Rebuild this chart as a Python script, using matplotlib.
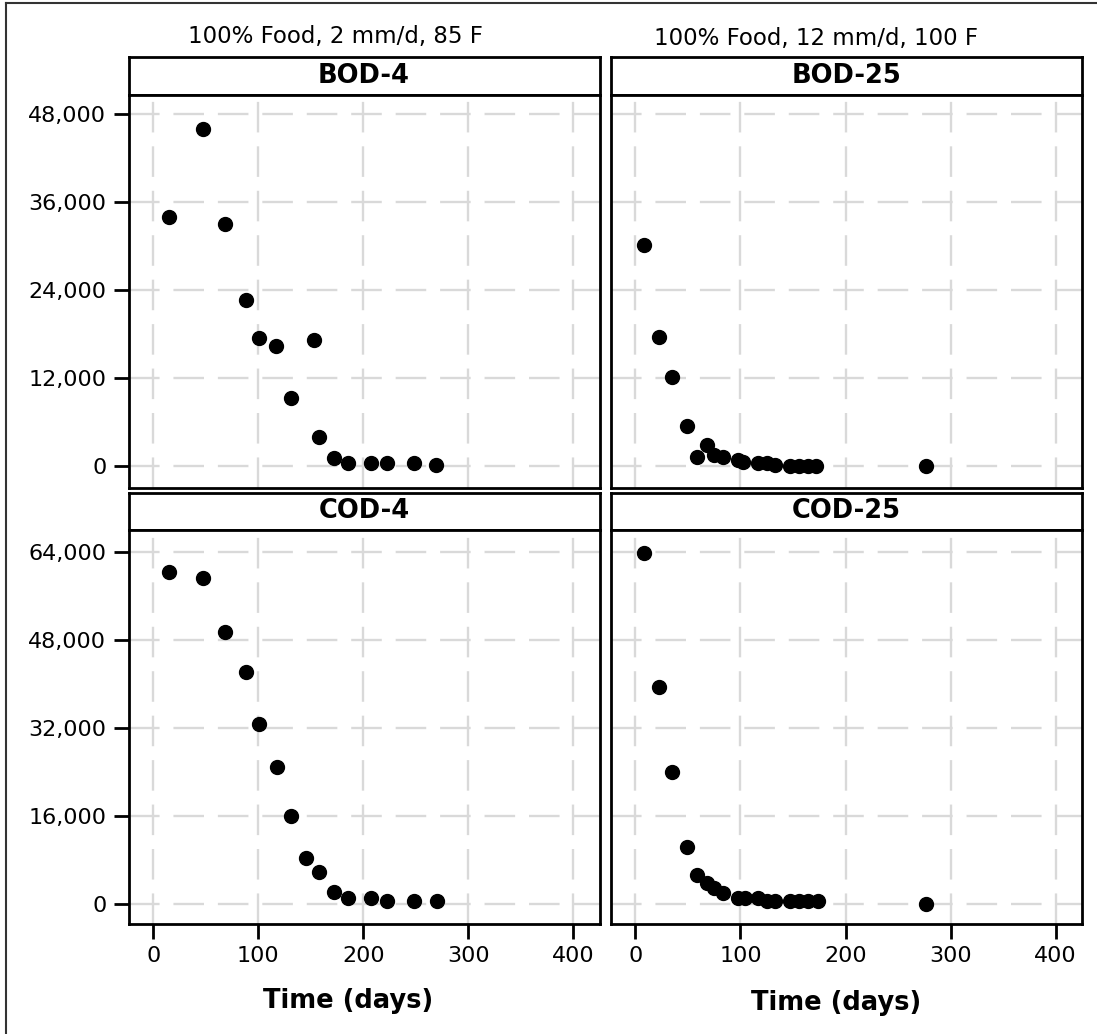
import matplotlib
matplotlib.use("Agg")
import matplotlib.pyplot as plt
from matplotlib.lines import Line2D
from matplotlib.ticker import StrMethodFormatter

# data (days, mg/L)
days_bod4 = [15, 47, 68, 88, 101, 117, 131, 153, 158, 172, 185, 207, 223, 248, 269]
bod4 = [33900, 46000, 33000, 22700, 17500, 16400, 9300, 17200, 3900, 1150, 400, 400, 400, 400, 150]

days_bod25 = [8, 22, 35, 49, 59, 68, 75, 83, 98, 102, 117, 125, 133, 147, 156, 164, 172, 277]
bod25 = [30100, 17600, 12100, 5500, 1200, 2800, 1500, 1200, 800, 500, 370, 370, 100, 50, 50, 50, 50, 50]

days_cod4 = [15, 47, 68, 88, 101, 118, 131, 145, 158, 172, 185, 207, 223, 248, 270]
cod4 = [60300, 59300, 49400, 42200, 32800, 25000, 16100, 8400, 5800, 2200, 1150, 1150, 550, 550, 550]

days_cod25 = [8, 22, 35, 49, 59, 68, 75, 83, 98, 104, 117, 125, 133, 147, 156, 164, 174, 277]
cod25 = [63800, 39400, 24000, 10400, 5300, 3800, 2900, 2100, 1100, 1100, 1100, 600, 500, 500, 500, 500, 500, 0]

col_titles = ["100% Food, 2 mm/d, 85 F", "100% Food, 12 mm/d, 100 F"]
x_ticks = [0, 100, 200, 300, 400]
bod_ticks = [0, 12000, 24000, 36000, 48000]
cod_ticks = [0, 16000, 32000, 48000, 64000]

plt.rcParams['font.family'] = ['DejaVu Sans']
plt.rcParams['lines.scale_dashes'] = False

W, H = 1097, 1034
fig = plt.figure(figsize=(W / 100, H / 100), dpi=100)

def box(x0, y0, x1, y1):
    # pixel box (top-left origin) -> figure fraction rect
    return [x0 / W, 1 - y1 / H, (x1 - x0) / W, (y1 - y0) / H]

cols = [(128.5, 599.5), (610.5, 1082)]
rows = [((57, 95), (95, 488)), ((493, 530), (530, 924))]

panels = [
    [("BOD-4", days_bod4, bod4), ("BOD-25", days_bod25, bod25)],
    [("COD-4", days_cod4, cod4), ("COD-25", days_cod25, cod25)],
]
yticks = [bod_ticks, cod_ticks]
ylims = [(-3000, 50600), (-3600, 68000)]

for r, ((s0, s1), (p0, p1)) in enumerate(rows):
    for c, (x0, x1) in enumerate(cols):
        title, xs, ys = panels[r][c]

        # strip header
        sax = fig.add_axes(box(x0, s0, x1, s1))
        sax.set_xticks([])
        sax.set_yticks([])
        for sp in sax.spines.values():
            sp.set_linewidth(2)
        sax.text(0.5, 0.5, title, transform=sax.transAxes, ha='center', va='center',
                 fontsize=18.5, fontweight='bold')

        ax = fig.add_axes(box(x0, p0, x1, p1))
        ax.set_axisbelow(True)
        ax.plot(xs, ys, 'o', color='black', ms=10)
        ax.set_xlim(-23.7, 425)
        ax.set_ylim(*ylims[r])
        ax.set_xticks(x_ticks)
        ax.set_yticks(yticks[r])
        ax.yaxis.set_major_formatter(StrMethodFormatter('{x:,.0f}'))
        ax.grid(True, color='#d9d9d9', lw=1.7, linestyle=(0, (22, 10)))
        for sp in ax.spines.values():
            sp.set_linewidth(2)
        ax.tick_params(length=11, width=2, labelsize=16, pad=5)
        if c == 1:
            ax.tick_params(axis='y', length=0, labelleft=False)
        if r == 0:
            ax.tick_params(axis='x', length=0, labelbottom=False)

# column headers and axis labels
fig.text(335 / W, 1 - 37 / H, col_titles[0], ha='center', va='center', fontsize=16.5)
fig.text(816 / W, 1 - 38 / H, col_titles[1], ha='center', va='center', fontsize=16.5)
fig.text(348 / W, 1 - 1001 / H, "Time (days)", ha='center', va='center',
         fontsize=18.5, fontweight='bold')
fig.text(836 / W, 1 - 1003 / H, "Time (days)", ha='center', va='center',
         fontsize=18.5, fontweight='bold')

# outer frame (only top and left edges are in view)
fig.add_artist(Line2D([6 / W, 1], [1 - 3 / H, 1 - 3 / H], color='#333333', lw=1.5))
fig.add_artist(Line2D([6 / W, 6 / W], [0, 1 - 3 / H], color='#333333', lw=1.5))

fig.savefig("out.png", dpi=100)
plt.close(fig)
